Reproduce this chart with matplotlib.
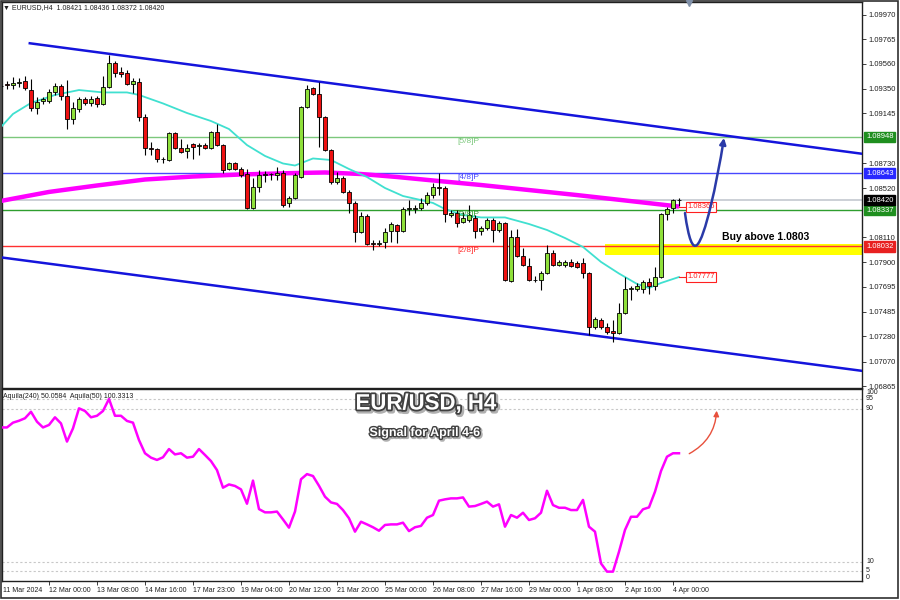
import numpy as np
import matplotlib
matplotlib.use('Agg')
import matplotlib.pyplot as plt
import matplotlib.patheffects as pe
from matplotlib.path import Path
from matplotlib.patches import FancyArrowPatch, Rectangle
from matplotlib.transforms import blended_transform_factory

plt.rcParams['font.family'] = ['Liberation Sans', 'DejaVu Sans']

# ── data (EURUSD H4) ─────────────────────────────────────────────
opens = [
    1.09374, 1.09391, 1.09382, 1.09396, 1.09416, 1.09340, 1.09190, 1.09248, 1.09248, 1.09324,
    1.09374, 1.09290, 1.09098, 1.09181, 1.09265, 1.09232, 1.09273, 1.09223, 1.09365, 1.09562,
    1.09487, 1.09482, 1.09391, 1.09407, 1.09115, 1.08855, 1.08847, 1.08763, 1.08755, 1.08977,
    1.08855, 1.08830, 1.08889, 1.08874, 1.08880, 1.08855, 1.08989, 1.08880, 1.08680, 1.08730,
    1.08680, 1.08638, 1.08354, 1.08529, 1.08630, 1.08638, 1.08630, 1.08646, 1.08395, 1.08437,
    1.08613, 1.09198, 1.09353, 1.09307, 1.09115, 1.08839, 1.08571, 1.08604, 1.08487, 1.08395,
    1.08153, 1.08287, 1.08061, 1.08057, 1.08069, 1.08161, 1.08211, 1.08161, 1.08345, 1.08349,
    1.08354, 1.08395, 1.08462, 1.08529, 1.08521, 1.08295, 1.08312, 1.08236, 1.08253, 1.08270,
    1.08161, 1.08186, 1.08253, 1.08170, 1.08228, 1.07743, 1.08111, 1.07952, 1.07868, 1.07756,
    1.07751, 1.07810, 1.07977, 1.07877, 1.07877, 1.07902, 1.07893, 1.07893, 1.07810, 1.07358,
    1.07417, 1.07358, 1.07325, 1.07308, 1.07475, 1.07680, 1.07676, 1.07676, 1.07735, 1.07701,
    1.07777, 1.08304, 1.08354, 1.08421]
highs = [
    1.09391, 1.09416, 1.09449, 1.09441, 1.09457, 1.09432, 1.09282, 1.09282, 1.09349, 1.09399,
    1.09391, 1.09424, 1.09240, 1.09282, 1.09282, 1.09290, 1.09290, 1.09457, 1.09633, 1.09583,
    1.09533, 1.09508, 1.09441, 1.09441, 1.09140, 1.08905, 1.08855, 1.08780, 1.08989, 1.08989,
    1.08931, 1.08889, 1.08897, 1.08897, 1.08897, 1.08998, 1.09056, 1.08889, 1.08738, 1.08742,
    1.08697, 1.08680, 1.08604, 1.08671, 1.08659, 1.08650, 1.08697, 1.08671, 1.08454, 1.08646,
    1.09207, 1.09382, 1.09365, 1.09407, 1.09123, 1.08847, 1.08655, 1.08621, 1.08504, 1.08412,
    1.08320, 1.08304, 1.08086, 1.08086, 1.08186, 1.08236, 1.08220, 1.08362, 1.08420, 1.08379,
    1.08437, 1.08487, 1.08563, 1.08646, 1.08538, 1.08337, 1.08337, 1.08320, 1.08379, 1.08295,
    1.08203, 1.08270, 1.08270, 1.08245, 1.08236, 1.08170, 1.08178, 1.08019, 1.07935, 1.07785,
    1.07827, 1.08044, 1.08002, 1.07919, 1.07919, 1.07927, 1.07910, 1.07935, 1.07818, 1.07442,
    1.07434, 1.07392, 1.07417, 1.07559, 1.07777, 1.07701, 1.07726, 1.07751, 1.07768, 1.07860,
    1.08312, 1.08362, 1.08429, 1.08436]
lows = [
    1.09357, 1.09349, 1.09349, 1.09365, 1.09340, 1.09165, 1.09140, 1.09223, 1.09232, 1.09299,
    1.09257, 1.09014, 1.09056, 1.09156, 1.09215, 1.09207, 1.09198, 1.09215, 1.09357, 1.09449,
    1.09449, 1.09382, 1.09315, 1.09081, 1.08797, 1.08797, 1.08738, 1.08730, 1.08747, 1.08847,
    1.08814, 1.08772, 1.08763, 1.08797, 1.08847, 1.08847, 1.08872, 1.08646, 1.08671, 1.08671,
    1.08613, 1.08345, 1.08345, 1.08487, 1.08571, 1.08588, 1.08588, 1.08362, 1.08362, 1.08429,
    1.08604, 1.09190, 1.09299, 1.08864, 1.08830, 1.08554, 1.08554, 1.08479, 1.08312, 1.08069,
    1.08144, 1.08044, 1.08002, 1.08036, 1.08019, 1.08069, 1.08061, 1.08153, 1.08295, 1.08312,
    1.08337, 1.08379, 1.08437, 1.08462, 1.08236, 1.08278, 1.08195, 1.08228, 1.08236, 1.08103,
    1.08128, 1.08170, 1.08069, 1.08153, 1.07743, 1.07735, 1.07944, 1.07868, 1.07743, 1.07735,
    1.07668, 1.07802, 1.07868, 1.07868, 1.07860, 1.07860, 1.07852, 1.07768, 1.07291, 1.07342,
    1.07342, 1.07300, 1.07233, 1.07300, 1.07467, 1.07584, 1.07660, 1.07643, 1.07634, 1.07668,
    1.07768, 1.08253, 1.08312, 1.08372]
closes = [
    1.09370, 1.09378, 1.09395, 1.09407, 1.09357, 1.09190, 1.09240, 1.09261, 1.09324, 1.09374,
    1.09290, 1.09098, 1.09190, 1.09265, 1.09232, 1.09269, 1.09223, 1.09365, 1.09566, 1.09482,
    1.09478, 1.09391, 1.09416, 1.09115, 1.08855, 1.08847, 1.08763, 1.08761, 1.08981, 1.08855,
    1.08822, 1.08855, 1.08866, 1.08880, 1.08855, 1.08989, 1.08880, 1.08671, 1.08730, 1.08680,
    1.08630, 1.08354, 1.08529, 1.08630, 1.08642, 1.08635, 1.08646, 1.08379, 1.08437, 1.08630,
    1.09198, 1.09349, 1.09307, 1.09115, 1.08839, 1.08571, 1.08604, 1.08487, 1.08395, 1.08153,
    1.08287, 1.08053, 1.08053, 1.08061, 1.08153, 1.08220, 1.08161, 1.08345, 1.08354, 1.08354,
    1.08395, 1.08462, 1.08529, 1.08517, 1.08304, 1.08312, 1.08228, 1.08270, 1.08295, 1.08161,
    1.08186, 1.08253, 1.08170, 1.08228, 1.07751, 1.08111, 1.07952, 1.07877, 1.07751, 1.07751,
    1.07810, 1.07977, 1.07877, 1.07902, 1.07902, 1.07868, 1.07860, 1.07810, 1.07358, 1.07425,
    1.07358, 1.07317, 1.07308, 1.07475, 1.07676, 1.07684, 1.07701, 1.07735, 1.07701, 1.07777,
    1.08304, 1.08345, 1.08420, 1.08420]

# slow MA (magenta) and fast MA (cyan), sampled at some bars
ma_slow_bars = [0, 8, 16, 24, 32, 40, 48, 54, 60, 66, 72, 80, 88, 96, 104, 110, 113]
ma_slow = [1.08413, 1.08488, 1.08542, 1.08592, 1.08617, 1.08634, 1.08645, 1.08651, 1.08638,
           1.08613, 1.08584, 1.08546, 1.08504, 1.08462, 1.08417, 1.08383, 1.08366]
ma_fast_bars = [0, 2, 5, 9, 13, 17, 21, 23, 27, 31, 35, 38, 41, 44, 47, 49, 52, 55, 58, 61,
                64, 67, 70, 72, 74, 77, 80, 84, 88, 91, 94, 97, 100, 103, 106, 108, 110, 113]
ma_fast = [1.09031, 1.09140, 1.09232, 1.09299, 1.09340, 1.09320, 1.09320, 1.09299, 1.09228,
           1.09148, 1.09081, 1.09014, 1.08880, 1.08789, 1.08726, 1.08709, 1.08768, 1.08755,
           1.08680, 1.08613, 1.08521, 1.08454, 1.08420, 1.08396, 1.08345, 1.08295, 1.08275,
           1.08275, 1.08220, 1.08170, 1.08103, 1.08028, 1.07903, 1.07806, 1.07719, 1.07685,
           1.07727, 1.07777]

# Aquila oscillator, one value per bar
aquila = [
    80.3, 80.3, 82.8, 83.8, 85.1, 88.5, 83.3, 80.3, 81.6, 85.6,
    82.4, 72.9, 79.8, 90.3, 88.9, 85.6, 86.4, 88.9, 95.2, 86.4,
    86.4, 83.7, 82.8, 73.7, 66.8, 64.5, 63.3, 64.7, 69.0, 66.2,
    66.8, 64.5, 65.0, 69.0, 65.9, 62.7, 58.0, 48.8, 50.5, 49.7,
    47.9, 40.4, 52.5, 37.6, 35.9, 35.9, 36.3, 32.2, 27.9, 36.3,
    53.2, 55.9, 54.9, 49.8, 44.1, 41.1, 40.3, 37.1, 32.8, 25.8,
    31.0, 29.6, 28.1, 26.3, 29.3, 29.6, 29.6, 30.5, 26.1, 28.1,
    28.8, 33.1, 34.5, 42.0, 42.7, 43.2, 43.2, 43.7, 38.9, 39.2,
    40.3, 41.5, 38.9, 40.1, 28.4, 34.5, 33.1, 35.7, 31.9, 32.8,
    35.7, 47.2, 39.7, 38.3, 38.3, 37.1, 37.1, 42.4, 28.4, 25.8,
    9.2, 4.9, 4.9, 15.3, 26.7, 33.6, 33.6, 37.5, 38.5, 46.7,
    57.5, 65.0, 66.8, 66.8]

# channel lines: (bar, price) end points
upper_bars, upper_px = [4.8, 143.7], [1.09731, 1.08806]
lower_bars, lower_px = [0.0, 143.7], [1.07941, 1.06991]

# murrey math levels
murrey_vals = [1.08948, 1.08643, 1.08337, 1.08032]
murrey_names = ['[5/8]P', '[4/8]P', '[3/8]P', '[2/8]P']
murrey_cols = ['#7cc87c', '#4848ff', '#2e9e2e', '#ff3030']
murrey_box = ['#1f8f1f', '#2828ff', '#1f8f1f', '#e82020']
bid = 1.08420
buy_level = 1.0803
zone_lo, zone_hi = 1.07960, 1.08053

price_ticks = [1.09970, 1.09765, 1.09560, 1.09350, 1.09145, 1.08730, 1.08520,
               1.08110, 1.07900, 1.07695, 1.07485, 1.07280, 1.07070, 1.06865]
date_bars = [8, 16, 24, 32, 40, 48, 56, 64, 72, 80, 88, 96, 104, 112]
date_labels = ['12 Mar 00:00', '13 Mar 08:00', '14 Mar 16:00', '17 Mar 23:00',
               '19 Mar 04:00', '20 Mar 12:00', '21 Mar 20:00', '25 Mar 00:00',
               '26 Mar 08:00', '27 Mar 16:00', '29 Mar 00:00', '1 Apr 08:00',
               '2 Apr 16:00', '4 Apr 00:00']
osc_levels = [5, 10, 90, 95]
osc_labels = ['100', '95', '90', '10', '5', '0']

# ── layout ───────────────────────────────────────────────────────
W, H = 900, 600
fig = plt.figure(figsize=(9, 6), dpi=100)
fig.patch.set_facecolor('white')


def px_rect(x0, y0, x1, y1):
    return [x0 / W, 1 - y1 / H, (x1 - x0) / W, (y1 - y0) / H]


ax = fig.add_axes(px_rect(2, 2, 862, 388))
ax2 = fig.add_axes(px_rect(2, 389, 862, 581))
for a in (ax, ax2):
    for s in a.spines.values():
        s.set_color('#202020')
        s.set_linewidth(1.0)

xmin, xmax = 0.17, 143.5
ax.set_xlim(xmin, xmax)
ax.set_ylim(1.06849, 1.10076)
ax2.set_xlim(xmin, xmax)
ax2.set_ylim(0, 100.4)

# ── main panel ───────────────────────────────────────────────────
o = np.array(opens); h = np.array(highs); l = np.array(lows); c = np.array(closes)
idx = np.arange(len(o))
up = c >= o
ax.vlines(idx, l, h, color='black', lw=0.8, zorder=4)
body_h = np.maximum(np.abs(c - o), 0.00002)
ax.bar(idx, body_h, bottom=np.minimum(o, c), width=0.66,
       color=np.where(up, '#8fe03a', '#ee1111'), edgecolor='black',
       linewidth=0.6, zorder=5)

ax.plot(ma_slow_bars, ma_slow, color='#ff00ff', lw=3.2, zorder=3,
        solid_capstyle='butt', solid_joinstyle='round')
ax.plot(ma_fast_bars, ma_fast, color='#40e0d0', lw=1.3, zorder=3,
        solid_joinstyle='round')

ax.plot(upper_bars, upper_px, color='#1414dc', lw=1.8, zorder=3)
ax.plot(lower_bars, lower_px, color='#1414dc', lw=1.8, zorder=3)

ax.add_patch(Rectangle((100.7, zone_lo), xmax - 100.7, zone_hi - zone_lo,
                       fc='#ffff00', ec='none', zorder=1.5))
ax.axhline(bid, color='#c4c8d0', lw=1.2, zorder=2)
for v, name, col in zip(murrey_vals, murrey_names, murrey_cols):
    ax.axhline(v, color=col, lw=1.0, zorder=2)
    ax.text(76.0, v - 0.00008, name, color=col, fontsize=6, ha='left',
            va='top', zorder=6)

ax.text(120.2, 1.08112, f'Buy above {buy_level:.4f}', fontsize=7.5,
        weight='bold', color='black', ha='left', va='center', zorder=7)

# MA value tags
for val in (ma_slow[-1], ma_fast[-1]):
    ax.plot([113, 114.3], [val, val], color='#ff2020', lw=0.8, zorder=6)
    ax.text(114.4, val, f'{val:.5f}', fontsize=5.5, color='#ff2020',
            ha='left', va='center', zorder=7,
            bbox=dict(boxstyle='square,pad=0.2', fc='white', ec='#ff2020', lw=0.8))

# projected path arrow
verts = [(114.0, 1.08312), (114.6, 1.08090), (115.3, 1.08010), (116.0, 1.08045),
         (117.3, 1.08100), (119.3, 1.08560), (120.5, 1.08940)]
codes = [Path.MOVETO, Path.CURVE4, Path.CURVE4, Path.CURVE4,
         Path.CURVE4, Path.CURVE4, Path.CURVE4]
ax.add_patch(FancyArrowPatch(path=Path(verts, codes), arrowstyle='-|>',
                             mutation_scale=9, color='#2a3aa8', lw=1.8, zorder=8))

# right price scale
ax.yaxis.tick_right()
ax.set_yticks(price_ticks)
ax.set_yticklabels([f'{t:.5f}' for t in price_ticks])
ax.tick_params(axis='y', labelsize=5.5, length=3, width=0.6, pad=2, colors='#202020')
ax.set_xticks([])
trans = blended_transform_factory(ax.transAxes, ax.transData)
for v, fc in zip(murrey_vals + [bid], murrey_box + ['black']):
    ax.text(1.0 + 4 / 860, v, f'{v:.5f}', transform=trans, fontsize=5.5,
            color='white', ha='left', va='center', clip_on=False, zorder=10,
            bbox=dict(boxstyle='square,pad=0.2', fc=fc, ec=fc))

# ── oscillator panel ─────────────────────────────────────────────
for lv in osc_levels:
    ax2.axhline(lv, color='#c8c8c8', lw=0.8, ls=(0, (2, 2)), zorder=1)
ax2.plot(idx, aquila, color='#ff00ff', lw=1.8, zorder=3, solid_joinstyle='round')
ax2.add_patch(FancyArrowPatch((114.3, 65.9), (119.3, 90.5),
                              connectionstyle='arc3,rad=0.3', arrowstyle='-|>',
                              mutation_scale=8, color='#e8503c', lw=1.0, zorder=5))
ax2.set_yticks([])
trans2 = blended_transform_factory(ax2.transAxes, ax2.transData)
for lab, pos in zip(osc_labels, [98.5, 95.5, 90.0, 10.0, 5.5, 2.0]):
    ax2.text(1.0 + 4 / 860, pos, lab, transform=trans2, fontsize=5,
             ha='left', va='center', clip_on=False, color='#202020')

ax2.set_xticks(date_bars)
ax2.set_xticklabels(date_labels)
ax2.tick_params(axis='x', labelsize=5, length=3, width=0.6, pad=1.5, colors='#202020')
plt.setp(ax2.get_xticklabels(), ha='left')

# ── texts ────────────────────────────────────────────────────────
fig.text(3 / W, 1 - 590 / H, '11 Mar 2024', fontsize=5, ha='left', va='center',
         color='#202020')
fig.text(3 / W, 1 - 8 / H, '▼ EURUSD,H4  1.08421 1.08436 1.08372 1.08420',
         fontsize=5, ha='left', va='center', color='#202020')
fig.text(3 / W, 1 - 396 / H, 'Aquila(240) 50.0584  Aquila(50) 100.3313',
         fontsize=5, ha='left', va='center', color='#202020')

fx = [pe.Stroke(linewidth=3.5, foreground='#b0b0b0', offset=(1.2, -1.2)),
      pe.Stroke(linewidth=2.6, foreground='#404040'), pe.Normal()]
fig.text(426 / W, 1 - 404 / H, 'EUR/USD, H4', fontsize=16, weight='bold',
         color='white', ha='center', va='center', path_effects=fx)
fx2 = [pe.Stroke(linewidth=2.5, foreground='#b0b0b0', offset=(1, -1)),
       pe.Stroke(linewidth=2.0, foreground='#404040'), pe.Normal()]
fig.text(425 / W, 1 - 433 / H, 'Signal for April 4-6', fontsize=9, weight='bold',
         color='white', ha='center', va='center', path_effects=fx2)

# chart shift marker and outer frame
fig.lines.append(plt.Line2D([689 / W], [1 - 3 / H], marker='v', ms=5,
                            color='#8090a8', transform=fig.transFigure))
fig.patches.append(Rectangle((1 / W, 2 / H), 897 / W, 597 / H, fill=False,
                             ec='#303030', lw=1.2, transform=fig.transFigure))

fig.savefig('out.png', dpi=100)
plt.close(fig)
